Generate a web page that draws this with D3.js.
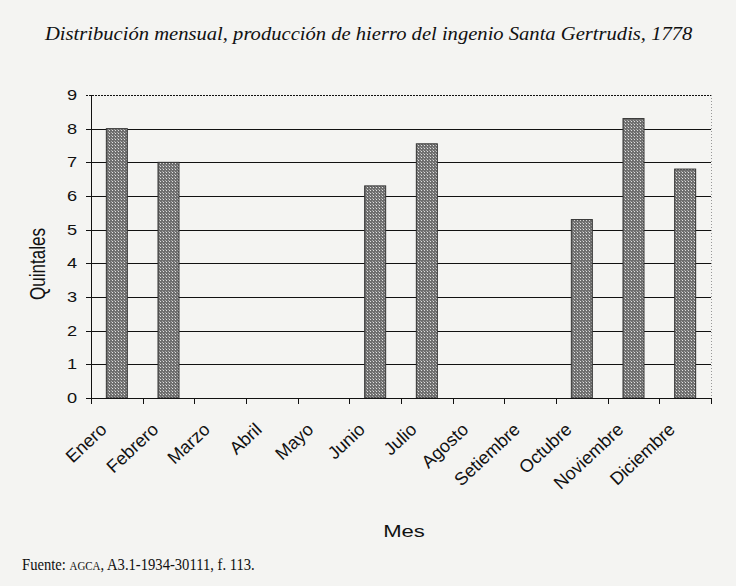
<!DOCTYPE html>
<html>
<head>
<meta charset="utf-8">
<script src="https://cdn.jsdelivr.net/npm/d3@7"></script>
<style>
  body { margin: 0; background: #f4f4f2; }
  svg { display: block; }
  .sans { font-family: "Liberation Sans", Arial, sans-serif; fill: #111; }
  .serif { font-family: "Liberation Serif", "Times New Roman", serif; fill: #111; }
</style>
</head>
<body>
<div id="chart"></div>
<script>
var months = ["Enero", "Febrero", "Marzo", "Abril", "Mayo", "Junio", "Julio",
              "Agosto", "Setiembre", "Octubre", "Noviembre", "Diciembre"];
var quintales = [8, 7, 0, 0, 0, 6.3, 7.55, 0, 0, 5.3, 8.3, 6.8];
var yTicks = [0, 1, 2, 3, 4, 5, 6, 7, 8, 9];

var titleText = "Distribución mensual, producción de hierro del ingenio Santa Gertrudis, 1778";

// the scan is stretched sideways, so the chart text is too
var stretch = 1.3;

var W = 736, H = 586;
var plot = {left: 91, right: 711, top: 95, bottom: 398};

var svg = d3.select("#chart").append("svg")
    .attr("width", W)
    .attr("height", H);

var x = d3.scaleBand()
    .domain(months)
    .range([plot.left, plot.right])
    .padding(0);

var y = d3.scaleLinear()
    .domain([0, 9])
    .range([plot.bottom, plot.top]);

// bar texture
var defs = svg.append("defs");
var pat = defs.append("pattern")
    .attr("id", "hatch")
    .attr("patternUnits", "userSpaceOnUse")
    .attr("width", 3).attr("height", 3);
pat.append("rect").attr("width", 3).attr("height", 3).attr("fill", "#6f6f6f");
pat.append("rect").attr("x", 1).attr("y", 1).attr("width", 1).attr("height", 1).attr("fill", "#e0e0e0");
pat.append("rect").attr("x", 0).attr("y", 0).attr("width", 1).attr("height", 1).attr("fill", "#a8a8a8");

// title
var title = svg.append("text")
    .attr("class", "serif")
    .style("font-style", "italic")
    .style("font-size", "19px")
    .text(titleText);
var tw = title.node().getComputedTextLength();
title.attr("transform", "translate(45,40) scale(" + (648 / tw) + ",1)");

// grid lines + y ticks
svg.append("g").selectAll("line")
    .data(yTicks.filter(function (d) { return d > 0; }))
    .enter().append("line")
    .attr("x1", plot.left - 5)
    .attr("x2", plot.right)
    .attr("y1", function (d) { return Math.round(y(d)) + 0.5; })
    .attr("y2", function (d) { return Math.round(y(d)) + 0.5; })
    .attr("stroke", "#111")
    .attr("stroke-width", 1)
    .attr("stroke-dasharray", function (d) { return d === 9 ? "2,1" : null; });

// right border of plot area
svg.append("line")
    .attr("x1", plot.right + 0.5).attr("x2", plot.right + 0.5)
    .attr("y1", plot.top).attr("y2", plot.bottom)
    .attr("stroke", "#999")
    .attr("stroke-dasharray", "1,2");

// y tick labels
svg.append("g").selectAll("text")
    .data(yTicks)
    .enter().append("text")
    .attr("class", "sans")
    .style("font-size", "14px")
    .attr("text-anchor", "end")
    .attr("dy", "0.36em")
    .attr("transform", function (d) {
        return "translate(77," + y(d) + ") scale(" + stretch + ",1)";
    })
    .text(function (d) { return d; });

// bars
var barW = 21;
svg.append("g").selectAll("rect")
    .data(quintales)
    .enter().append("rect")
    .attr("x", function (d, i) { return x(months[i]) + x.bandwidth() / 2 - barW / 2; })
    .attr("y", function (d) { return y(d); })
    .attr("width", barW)
    .attr("height", function (d) { return y(0) - y(d); })
    .attr("fill", "url(#hatch)")
    .attr("stroke", "#333")
    .attr("stroke-width", 1);

// axes lines
svg.append("line")
    .attr("x1", plot.left + 0.5).attr("x2", plot.left + 0.5)
    .attr("y1", plot.top).attr("y2", plot.bottom)
    .attr("stroke", "#111");
svg.append("line")
    .attr("x1", plot.left - 5).attr("x2", plot.right)
    .attr("y1", plot.bottom + 0.5).attr("y2", plot.bottom + 0.5)
    .attr("stroke", "#111");

// x ticks at category boundaries
var bounds = months.map(function (m) { return x(m); }).concat([plot.right]);
svg.append("g").selectAll("line")
    .data(bounds)
    .enter().append("line")
    .attr("x1", function (d) { return Math.round(d) + 0.5; })
    .attr("x2", function (d) { return Math.round(d) + 0.5; })
    .attr("y1", plot.bottom)
    .attr("y2", plot.bottom + 6)
    .attr("stroke", "#111");

// month labels
svg.append("g").selectAll("text")
    .data(months)
    .enter().append("text")
    .attr("class", "sans")
    .style("font-size", "18px")
    .attr("text-anchor", "end")
    .attr("transform", function (d) {
        var cx = x(d) + x.bandwidth() / 2 - 9;
        return "translate(" + cx + ",431) rotate(-43)";
    })
    .text(function (d) { return d; });

// axis titles
svg.append("text")
    .attr("class", "sans")
    .style("font-size", "17px")
    .attr("text-anchor", "middle")
    .attr("transform", "translate(" + ((plot.left + plot.right) / 2 + 3) + ",537) scale(" + stretch + ",1)")
    .text("Mes");

svg.append("text")
    .attr("class", "sans")
    .style("font-size", "17px")
    .attr("text-anchor", "middle")
    .attr("transform", "translate(45,264) scale(" + stretch + ",1) rotate(-90)")
    .text("Quintales");

// source line
var src = svg.append("text")
    .attr("class", "serif")
    .style("font-size", "16px");
src.append("tspan").text("Fuente: ");
src.append("tspan").style("font-size", "12px").text("AGCA");
src.append("tspan").text(", A3.1-1934-30111, f. 113.");
var sw = src.node().getComputedTextLength();
src.attr("transform", "translate(22,570) scale(" + (233 / sw) + ",1)");
</script>
</body>
</html>
